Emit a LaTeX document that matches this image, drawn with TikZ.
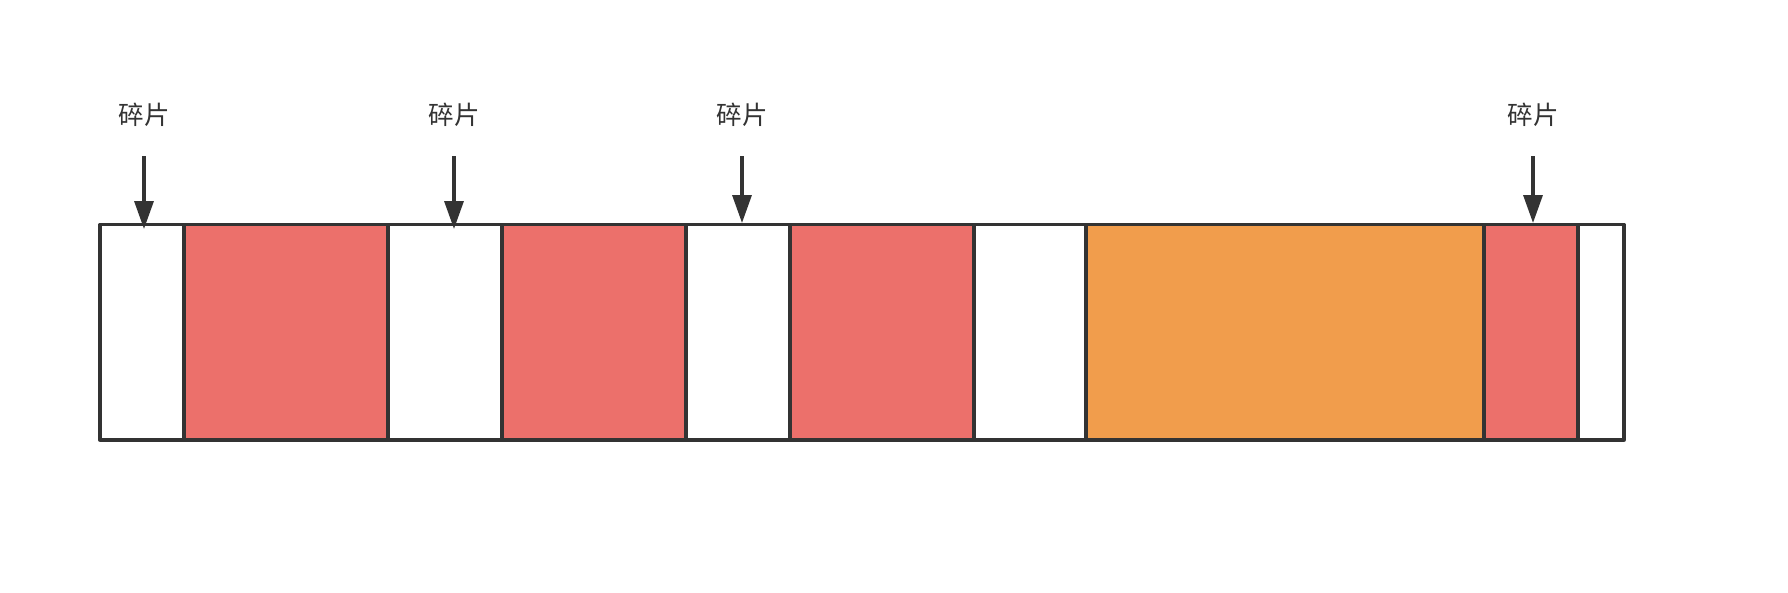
\documentclass[tikz,border=0pt]{standalone}
\usepackage{fontspec}
\newfontfamily\cjk{Noto Sans CJK SC}
\usetikzlibrary{arrows.meta}
\definecolor{ink}{HTML}{333333}
\definecolor{redfill}{HTML}{EC706B}
\definecolor{orangefill}{HTML}{F19D4C}
\tikzset{
  seg/.style={draw=ink, line width=3.3pt, line join=round},
  lbl/.style={font=\cjk\fontsize{25.5}{25.5}\selectfont, text=ink, inner sep=0pt},
  ptr/.style={draw=ink, line width=3.3pt, -{Triangle[length=28pt,width=19pt]}, shorten >=0pt}
}
\begin{document}
\begin{tikzpicture}[x=1pt,y=-1pt]
\useasboundingbox (0,0) rectangle (1788,592);
\fill[white] (0,0) rectangle (1788,592);
% segments
\path[seg,fill=white]      (100,224.5) rectangle (184,440);
\path[seg,fill=redfill]    (184,224.5) rectangle (388,440);
\path[seg,fill=white]      (388,224.5) rectangle (502,440);
\path[seg,fill=redfill]    (502,224.5) rectangle (686,440);
\path[seg,fill=white]      (686,224.5) rectangle (790,440);
\path[seg,fill=redfill]    (790,224.5) rectangle (974,440);
\path[seg,fill=white]      (974,224.5) rectangle (1086,440);
\path[seg,fill=orangefill] (1086,224.5) rectangle (1484,440);
\path[seg,fill=redfill]    (1484,224.5) rectangle (1578,440);
\path[seg,fill=white]      (1578,224.5) rectangle (1624,440);
% labels
\node[lbl] (t1) at (144,115) {碎片};
\node[lbl] (t2) at (454,115) {碎片};
\node[lbl] (t3) at (742,115) {碎片};
\node[lbl] (t4) at (1533,115) {碎片};
% arrow ends
\coordinate (a1) at (144,156);  \coordinate (b1) at (144,229);
\coordinate (a2) at (454,156);  \coordinate (b2) at (454,229);
\coordinate (a3) at (742,156);  \coordinate (b3) at (742,223);
\coordinate (a4) at (1533,156); \coordinate (b4) at (1533,223);
\draw[ptr] (a1) -- (b1);
\draw[ptr] (a2) -- (b2);
\draw[ptr] (a3) -- (b3);
\draw[ptr] (a4) -- (b4);
\end{tikzpicture}
\end{document}
